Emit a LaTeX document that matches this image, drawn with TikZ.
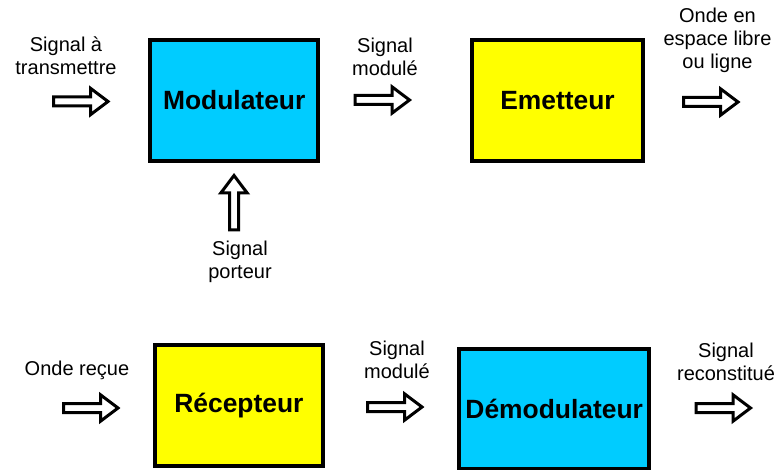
\documentclass[tikz,border=0pt]{standalone}
\usepackage{fontspec}
\setmainfont{Liberation Sans}
\definecolor{boxcyan}{HTML}{00CCFF}
\definecolor{boxyellow}{HTML}{FFFF00}
\begin{document}
\begin{tikzpicture}[x=1pt,y=-1pt,
  block/.style={draw=black, line width=4pt, inner sep=0pt, font=\fontsize{26.4}{30}\selectfont\bfseries},
  lbl/.style={inner sep=0pt, anchor=north, align=center, font=\fontsize{20}{23}\selectfont},
  blockarrow/.pic={\draw[line width=3pt, fill=white, line join=miter, miter limit=4]
     (-27.5,-4.5) -- (9.5,-4.5) -- (9.5,-13.2) -- (27,0) -- (9.5,13.2) -- (9.5,4.5) -- (-27.5,4.5) -- cycle;}]
\useasboundingbox (0,0) rectangle (778,470);
% boxes
\node[block, fill=boxcyan, minimum width=167.7pt, minimum height=120.4pt] (mod) at (234.2,100.5) {Modulateur};
\node[block, fill=boxyellow, minimum width=171pt, minimum height=120.4pt] (emet) at (557.5,100.5) {Emetteur};
\node[block, fill=boxyellow, minimum width=168.3pt, minimum height=120.4pt] (recep) at (238.9,405.5) {Récepteur};
\node[block, fill=boxcyan, minimum width=189.7pt, minimum height=120.4pt] (demod) at (554.2,408.9) {Démodulateur};
% arrows
\coordinate (a1) at (81,101.5);
\coordinate (a2) at (382.5,100);
\coordinate (a3) at (711,102);
\coordinate (a4) at (234,202.5);
\coordinate (b1) at (91,408);
\coordinate (b2) at (395,407);
\coordinate (b3) at (723.5,408);
\pic at (a1) {blockarrow};
\pic at (a2) {blockarrow};
\pic at (a3) {blockarrow};
\pic[rotate=90] at (a4) {blockarrow};
\pic at (b1) {blockarrow};
\pic at (b2) {blockarrow};
\pic at (b3) {blockarrow};
% labels
\node[lbl] (l1) at (66,36.4) {Signal à\\transmettre};
\node[lbl] (l2) at (385,37.4) {Signal\\modulé};
\node[lbl] (l3) at (717.5,7.4) {Onde en\\espace libre\\ou ligne};
\node[lbl] (l4) at (240,240.4) {Signal\\porteur};
\node[lbl] (l5) at (77,360.4) {Onde reçue};
\node[lbl] (l6) at (397,340.4) {Signal\\modulé};
\node[lbl] (l7) at (726,342.4) {Signal\\reconstitué};
\end{tikzpicture}
\end{document}
